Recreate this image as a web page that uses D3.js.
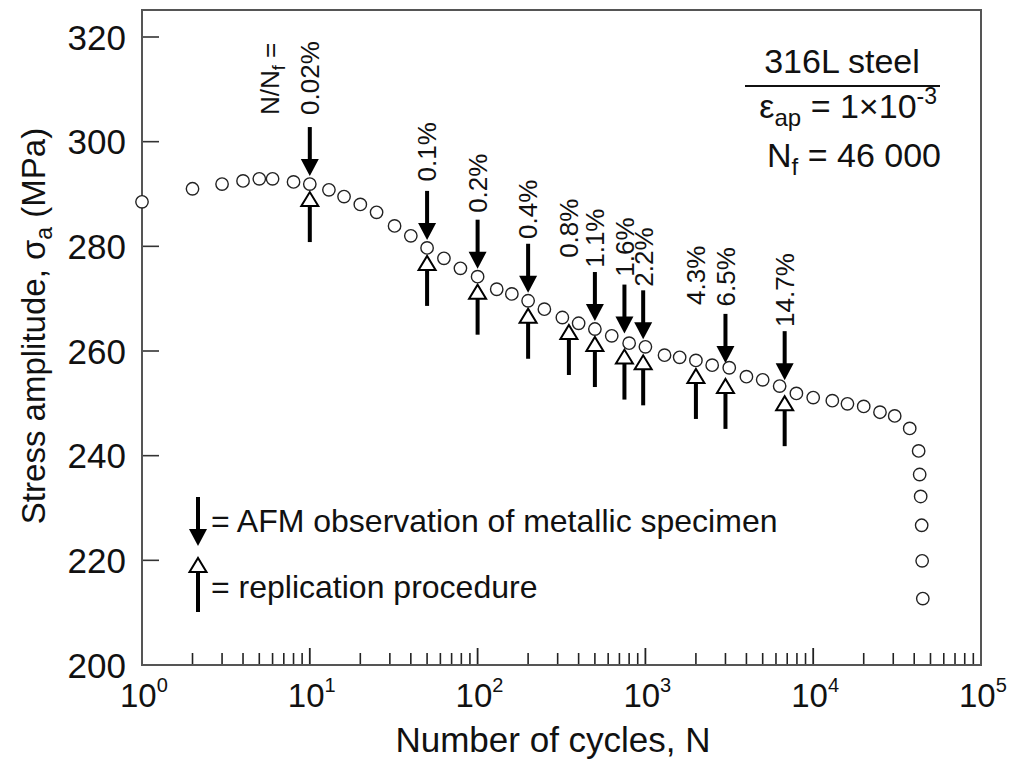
<!DOCTYPE html>
<html><head><meta charset="utf-8">
<script src="https://cdn.jsdelivr.net/npm/d3@7"></script>
<style>body{margin:0;background:#fff}svg{display:block}text{font-family:"Liberation Sans",Arial,sans-serif;fill:#111}</style>
</head><body><svg id="c" width="1009" height="764"></svg>
<script>
const cycles = [1,2,3,4,5,6,8,10,13,16,20,25,32,40,50,63,79,100,130,160,200,250,320,400,500,630,800,1000,1300,1600,2000,2500,3160,4000,5000,6310,7940,10000,13000,16000,20000,25000,30600,37600,42500,43100,43700,44300,44600,45000];
const stress = [288.5,291.0,291.9,292.5,292.9,292.9,292.3,291.9,290.8,289.5,288.0,286.5,283.9,282.0,279.7,277.7,275.8,274.2,271.8,270.9,269.6,268.0,266.4,265.3,264.2,262.9,261.5,260.8,259.2,258.8,258.2,257.3,256.8,255.1,254.5,253.3,251.9,251.1,250.5,249.9,249.4,248.3,247.6,245.2,240.9,236.4,232.2,226.7,219.9,212.7];

const arrowCycles = [10,50,100,200,350,500,750,970,2000,3000,6760];
const arrowStress = [291.9,279.7,274.2,269.6,266.5,264.2,261.8,260.7,258.1,256.2,252.9];
const arrowLabels = ["0.02%","0.1%","0.2%","0.4%","0.8%","1.1%","1.6%","2.2%","4.3%","6.5%","14.7%"];
const labelStress = [305.1,292.4,286.4,281.4,277.8,275.9,274.2,272.3,268.8,268.5,264.6];
const hasAFM = [true,true,true,true,false,true,true,true,false,true,true];
const hasReplica = [true,true,true,true,true,true,true,true,true,true,true];

const yTicks = [200,220,240,260,280,300,320];
const xDecades = [1,10,100,1000,10000,100000];

const svg = d3.select("#c");
const L=142, R=981, T=10, B=665;
const x = d3.scaleLog().domain([1,1e5]).range([L,R]);
const y = d3.scaleLinear().domain([200,320]).range([B,37]);

// minor x ticks
const minor = [];
for (let d=1; d<1e5; d*=10) for (let k=2;k<=9;k++) minor.push(d*k);
svg.append("g").selectAll("line").data(minor).join("line")
  .attr("x1",d=>x(d)).attr("x2",d=>x(d)).attr("y1",B).attr("y2",B-12)
  .attr("stroke","#222").attr("stroke-width",1.6);
svg.append("g").selectAll("line").data(xDecades.slice(1,-1)).join("line")
  .attr("x1",d=>x(d)).attr("x2",d=>x(d)).attr("y1",B).attr("y2",B-17)
  .attr("stroke","#222").attr("stroke-width",1.8);
svg.append("g").selectAll("line").data(yTicks).join("line")
  .attr("x1",L).attr("x2",L+17).attr("y1",d=>y(d)).attr("y2",d=>y(d))
  .attr("stroke","#333").attr("stroke-width",1.6);

// frame
svg.append("rect").attr("x",L).attr("y",T).attr("width",R-L).attr("height",B-T)
  .attr("fill","none").attr("stroke","#555").attr("stroke-width",2);

// y tick labels
svg.append("g").selectAll("text").data(yTicks).join("text")
  .attr("x",126).attr("y",d=>y(d)).attr("dy","0.36em").attr("text-anchor","end")
  .attr("font-size",35).text(d=>d);

// x tick labels
const xl = svg.append("g").selectAll("text").data(xDecades).join("text")
  .attr("x",d=>x(d)-22).attr("y",707).attr("font-size",33);
xl.append("tspan").text("10");
xl.append("tspan").attr("font-size",20).attr("dy",-15).text(d=>Math.round(Math.log10(d)));

// axis titles
svg.append("text").attr("x",553).attr("y",752).attr("text-anchor","middle").attr("font-size",35)
  .text("Number of cycles, N");
const yt = svg.append("text").attr("transform","translate(45,326) rotate(-90)").attr("text-anchor","middle").attr("font-size",33);
yt.append("tspan").text("Stress amplitude, σ");
yt.append("tspan").attr("font-size",23).attr("dy",7).text("a");
yt.append("tspan").attr("dy",-7).text(" (MPa)");

// arrow helpers
function downArrow(g, cx, tip, len){
  g.append("rect").attr("x",cx-2).attr("y",tip-len).attr("width",4).attr("height",len-15).attr("fill","#000");
  g.append("path").attr("d",`M${cx-9},${tip-17}L${cx+9},${tip-17}L${cx},${tip}Z`).attr("fill","#000");
}
function upArrow(g, cx, tip, len){
  g.append("rect").attr("x",cx-2).attr("y",tip+13).attr("width",4).attr("height",len-13).attr("fill","#000");
  g.append("path").attr("d",`M${cx-8.5},${tip+14}L${cx+8.5},${tip+14}L${cx},${tip}Z`).attr("fill","#fff").attr("stroke","#000").attr("stroke-width",2);
}

const ga = svg.append("g");
arrowCycles.forEach((n,i)=>{
  const cx = x(n), cy = y(arrowStress[i]);
  if (hasAFM[i]) downArrow(ga, cx, cy-8, 49);
  if (hasReplica[i]) upArrow(ga, cx, cy+8, 50);
});

// labels
svg.append("g").selectAll("text").data(arrowLabels).join("text")
  .attr("transform",(d,i)=>`translate(${x(arrowCycles[i])},${y(labelStress[i])}) rotate(-90)`)
  .attr("dy","0.36em").attr("font-size",26).text(d=>d);
const nn = svg.append("text").attr("transform",`translate(${x(10)-40},${y(labelStress[0])}) rotate(-90)`)
  .attr("dy","0.36em").attr("font-size",26);
nn.append("tspan").text("N/N");
nn.append("tspan").attr("font-size",18).attr("dy",6).text("f");
nn.append("tspan").attr("dy",-6).text(" =");

// data circles
svg.append("g").selectAll("circle").data(cycles).join("circle")
  .attr("cx",d=>x(d)).attr("cy",(d,i)=>y(stress[i])).attr("r",6.2)
  .attr("fill","#fff").attr("stroke","#222").attr("stroke-width",1.4);

// info box
svg.append("text").attr("x",842).attr("y",73).attr("text-anchor","middle").attr("font-size",34).text("316L steel");
svg.append("line").attr("x1",745).attr("x2",940).attr("y1",86).attr("y2",86).attr("stroke","#111").attr("stroke-width",2);
const e = svg.append("text").attr("x",937).attr("y",118).attr("text-anchor","end").attr("font-size",34);
e.append("tspan").text("ε");
e.append("tspan").attr("font-size",24).attr("dy",8).text("ap");
e.append("tspan").attr("dy",-8).text(" = 1×10");
e.append("tspan").attr("font-size",23).attr("dy",-14).text("-3");
const nf = svg.append("text").attr("x",941).attr("y",167).attr("text-anchor","end").attr("font-size",34);
nf.append("tspan").text("N");
nf.append("tspan").attr("font-size",24).attr("dy",8).text("f");
nf.append("tspan").attr("dy",-8).text(" = 46 000");

// legend
const lg = svg.append("g");
downArrow(lg, 198, 546, 49);
upArrow(lg, 198, 558, 54);
lg.append("text").attr("x",211).attr("y",532).attr("font-size",32).text("= AFM observation of metallic specimen");
lg.append("text").attr("x",211).attr("y",598).attr("font-size",32).text("= replication procedure");
</script></body></html>
